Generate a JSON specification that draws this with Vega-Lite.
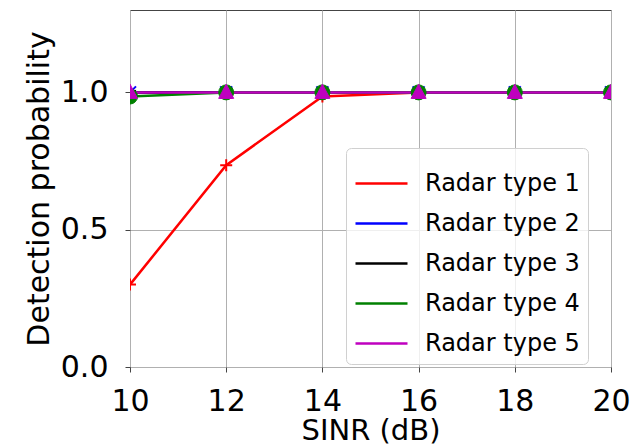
{
  "$schema": "https://vega.github.io/schema/vega-lite/v6.json",
  "width": 481,
  "height": 357,
  "autosize": {"type": "none"},
  "padding": {"left": 130, "top": 10, "right": 20, "bottom": 79},
  "background": "white",
  "config": {
    "font": "DejaVu Sans",
    "view": {"stroke": "#444", "strokeWidth": 1},
    "axis": {
      "domain": false,
      "grid": true,
      "gridColor": "#b0b0b0",
      "gridWidth": 1,
      "tickColor": "#444",
      "tickSize": 5,
      "labelColor": "black",
      "titleColor": "black",
      "labelFont": "DejaVu Sans",
      "titleFont": "DejaVu Sans",
      "titleFontWeight": "normal",
      "labelFontSize": 30,
      "titleFontSize": 29
    }
  },
  "data": {
    "values": [
      {"snr": 10, "p": 0.30, "type": "Radar type 1"},
      {"snr": 12, "p": 0.735, "type": "Radar type 1"},
      {"snr": 14, "p": 0.985, "type": "Radar type 1"},
      {"snr": 16, "p": 1.0, "type": "Radar type 1"},
      {"snr": 18, "p": 1.0, "type": "Radar type 1"},
      {"snr": 20, "p": 1.0, "type": "Radar type 1"},
      {"snr": 10, "p": 1.0, "type": "Radar type 2"},
      {"snr": 12, "p": 1.0, "type": "Radar type 2"},
      {"snr": 14, "p": 1.0, "type": "Radar type 2"},
      {"snr": 16, "p": 1.0, "type": "Radar type 2"},
      {"snr": 18, "p": 1.0, "type": "Radar type 2"},
      {"snr": 20, "p": 1.0, "type": "Radar type 2"},
      {"snr": 10, "p": 1.0, "type": "Radar type 3"},
      {"snr": 12, "p": 1.0, "type": "Radar type 3"},
      {"snr": 14, "p": 1.0, "type": "Radar type 3"},
      {"snr": 16, "p": 1.0, "type": "Radar type 3"},
      {"snr": 18, "p": 1.0, "type": "Radar type 3"},
      {"snr": 20, "p": 1.0, "type": "Radar type 3"},
      {"snr": 10, "p": 0.985, "type": "Radar type 4"},
      {"snr": 12, "p": 1.0, "type": "Radar type 4"},
      {"snr": 14, "p": 1.0, "type": "Radar type 4"},
      {"snr": 16, "p": 1.0, "type": "Radar type 4"},
      {"snr": 18, "p": 1.0, "type": "Radar type 4"},
      {"snr": 20, "p": 1.0, "type": "Radar type 4"},
      {"snr": 10, "p": 1.0, "type": "Radar type 5"},
      {"snr": 12, "p": 1.0, "type": "Radar type 5"},
      {"snr": 14, "p": 1.0, "type": "Radar type 5"},
      {"snr": 16, "p": 1.0, "type": "Radar type 5"},
      {"snr": 18, "p": 1.0, "type": "Radar type 5"},
      {"snr": 20, "p": 1.0, "type": "Radar type 5"}
    ]
  },
  "encoding": {
    "x": {
      "field": "snr",
      "type": "quantitative",
      "scale": {"domain": [10, 20], "nice": false, "zero": false},
      "axis": {"title": "SINR (dB)", "values": [10, 12, 14, 16, 18, 20], "labelPadding": 14, "titlePadding": 0, "labelFlush": false}
    },
    "y": {
      "field": "p",
      "type": "quantitative",
      "scale": {"domain": [0, 1.3], "nice": false},
      "axis": {"title": "Detection probability", "values": [0, 0.5, 1.0], "format": ".1f", "labelPadding": 17, "titlePadding": 6, "titleFontSize": 30}
    }
  },
  "layer": [
    {
      "mark": {"type": "line", "strokeWidth": 2.5, "clip": true},
      "encoding": {
        "color": {
          "field": "type",
          "type": "nominal",
          "scale": {
            "domain": ["Radar type 1", "Radar type 2", "Radar type 3", "Radar type 4", "Radar type 5"],
            "range": ["#ff0000", "#0000ff", "#000000", "#008000", "#bf00bf"]
          },
          "legend": {
            "title": null,
            "orient": "none",
            "legendX": 216,
            "legendY": 138,
            "labelFontSize": 24,
            "labelFont": "DejaVu Sans",
            "labelColor": "black",
            "symbolType": "stroke",
            "symbolSize": 2704,
            "symbolStrokeWidth": 2.5,
            "labelOffset": 16,
            "rowPadding": -3,
            "padding": 8,
            "strokeColor": "#d0d0d0",
            "cornerRadius": 5,
            "fillColor": "rgba(255,255,255,0.8)"
          }
        }
      }
    },
    {
      "transform": [{"filter": "datum.type == 'Radar type 1'"}],
      "mark": {"type": "point", "shape": "M-0.8,0H0.8M0,-0.8V0.8", "size": 225, "filled": false, "stroke": "#ff0000", "strokeWidth": 2, "opacity": 1, "clip": true}
    },
    {
      "transform": [{"filter": "datum.type == 'Radar type 2'"}],
      "mark": {"type": "point", "shape": "M-0.8,-0.8L0.8,0.8M-0.8,0.8L0.8,-0.8", "size": 225, "filled": false, "stroke": "#0000ff", "strokeWidth": 2, "opacity": 1, "clip": true}
    },
    {
      "transform": [{"filter": "datum.type == 'Radar type 3'"}],
      "mark": {"type": "point", "shape": "M0,-0.85L0.191,-0.263L0.808,-0.263L0.309,0.1L0.5,0.688L0,0.325L-0.5,0.688L-0.309,0.1L-0.808,-0.263L-0.191,-0.263Z", "size": 225, "filled": true, "fill": "#000000", "stroke": "#000000", "strokeWidth": 1, "opacity": 1, "clip": true}
    },
    {
      "transform": [{"filter": "datum.type == 'Radar type 4'"}],
      "mark": {"type": "point", "shape": "circle", "size": 225, "filled": true, "fill": "#008000", "stroke": "#008000", "strokeWidth": 1, "opacity": 1, "clip": true}
    },
    {
      "transform": [{"filter": "datum.type == 'Radar type 5'"}],
      "mark": {"type": "point", "shape": "M0,-1.1L1,0.8L-1,0.8Z", "size": 225, "filled": true, "fill": "#bf00bf", "stroke": "#bf00bf", "strokeWidth": 1, "opacity": 1, "clip": true}
    }
  ]
}
